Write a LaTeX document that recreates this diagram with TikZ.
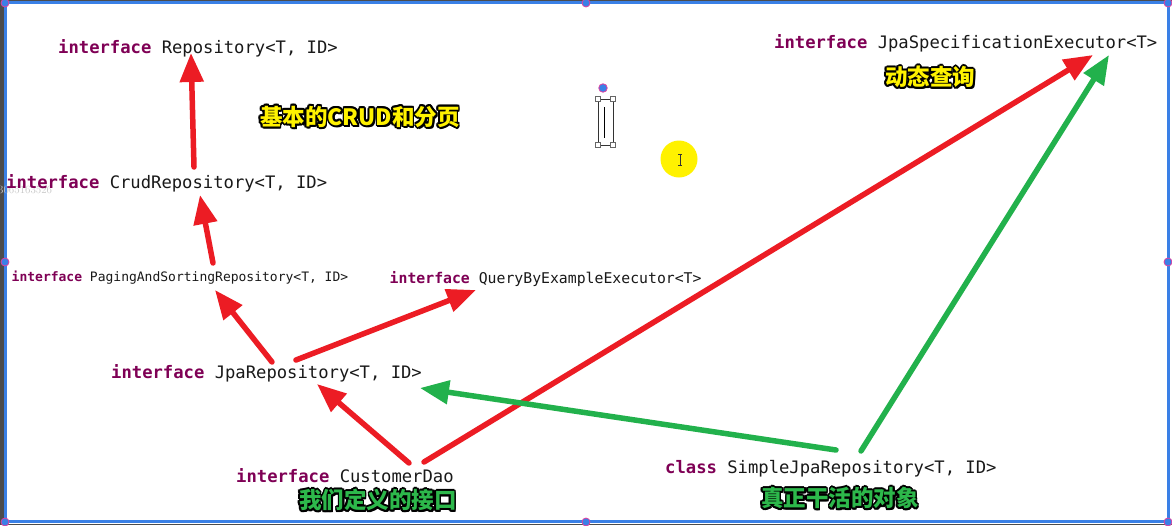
\documentclass[tikz,border=0pt]{standalone}
\usepackage{fontspec}
\setmonofont{DejaVu Sans Mono}
\newfontfamily\cjk{Noto Sans CJK SC}
\usetikzlibrary{arrows.meta}
\definecolor{kwpurple}{HTML}{7F0055}
\definecolor{arrred}{HTML}{EC1C24}
\definecolor{arrgreen}{HTML}{22B14C}
\definecolor{labyellow}{HTML}{FFF200}
\definecolor{labgreen}{HTML}{2DB84B}
\definecolor{frameblue}{HTML}{3A80E6}
\definecolor{handlering}{HTML}{E040A0}
\newcommand\kw[1]{{\bfseries\color{kwpurple}#1}}
\newcommand\olab[2]{%
  \leavevmode
  \foreach \ang in {0,30,...,330}{%
    \pgfmathsetlengthmacro\dx{1.7pt*cos(\ang)}%
    \pgfmathsetlengthmacro\dy{1.7pt*sin(\ang)}%
    \rlap{\kern\dx\raisebox{\dy}{\color{black}#2}}}%
  \rlap{\kern1.6pt\raisebox{-1.8pt}{\color{black}#2}}%
  {\color{#1}#2}}
\tikzset{
  code/.style={anchor=base west, inner sep=0pt, font=\ttfamily\fontsize{17.2}{20}\selectfont, text=black!90},
  codesmall/.style={code, font=\ttfamily\fontsize{13}{15}\selectfont},
  codemid/.style={code, font=\ttfamily\fontsize{14.8}{17}\selectfont},
  cnlab/.style={inner sep=0pt, font=\cjk\bfseries\fontsize{22.5}{26}\selectfont},
  redarr/.style={draw=arrred, line width=5.5pt, line cap=round, -{Triangle[length=29pt,width=23pt]}},
  greenarr/.style={draw=arrgreen, line width=5.5pt, line cap=round, -{Triangle[length=29pt,width=23pt]}},
  handle/.style={circle, fill=frameblue, draw=handlering, line width=0.8pt, minimum size=8pt, inner sep=0pt},
  sqh/.style={rectangle, fill=white, draw=black!60, line width=0.6pt, minimum size=5pt, inner sep=0pt}
}
\begin{document}
\begin{tikzpicture}[x=1pt,y=-1pt]
\useasboundingbox (0,0) rectangle (1172,525);
\fill[white] (0,0) rectangle (1172,525);
% screen frame
\fill[black!70] (0,0) rectangle (3.5,525);
\fill[black!70] (0,0) rectangle (1172,1.2);
\fill[black!70] (0,523.5) rectangle (1172,525);
\draw[frameblue, line width=2.8pt] (5.2,2.8) -- (1168.2,2.8) -- (1168.2,521.8) -- (5.2,521.8) -- cycle;
\foreach \p/\n in {{(5,3)}/h1,{(586,3)}/h2,{(1168,3)}/h3,{(5,262)}/h4,{(1168,262)}/h5,{(5,522)}/h6,{(586,522)}/h7,{(1168,522)}/h8}
  \node[handle] (\n) at \p {};
% faint watermark
\node[anchor=base west, inner sep=0pt, text=black!22, font=\fontsize{11}{12}\selectfont] (wm) at (-2,193) {3065163526};
% selection box and cursor
\draw[black!80, line width=0.7pt] (598,99) rectangle (613,145);
\draw[black, line width=1pt] (604.5,107) -- (604.5,138);
\foreach \p/\n in {{(598,99)}/s1,{(613,99)}/s2,{(598,145)}/s3,{(613,145)}/s4}
  \node[sqh] (\n) at \p {};
\node[handle, minimum size=8.5pt] (rot) at (603,88) {};
\node[circle, fill=yellow, minimum size=37pt, inner sep=0pt] (cursorspot) at (679,159) {};
\draw[black!80, line width=0.7pt] (680,154) -- (680,165) (678,154) -- (682,154) (678,165) -- (682,165);
% code nodes
\node[code] (repo) at (58,53) {\kw{interface} Repository<T, ID>};
\node[code] (crud) at (6,188) {\kw{interface} CrudRepository<T, ID>};
\node[codesmall] (paging) at (11.5,281) {\kw{interface} PagingAndSortingRepository<T, ID>};
\node[codemid] (query) at (389.5,283) {\kw{interface} QueryByExampleExecutor<T>};
\node[code] (jpa) at (111,378) {\kw{interface} JpaRepository<T, ID>};
\node[code] (dao) at (236,482) {\kw{interface} CustomerDao};
\node[code] (simple) at (665,473) {\kw{class} SimpleJpaRepository<T, ID>};
\node[code] (spec) at (774,48) {\kw{interface} JpaSpecificationExecutor<T>};
% labels
\node[cnlab] (lab1) at (360,117) {\olab{labyellow}{基本的CRUD和分页}};
\node[cnlab] (lab2) at (930,77) {\olab{labyellow}{动态查询}};
\node[cnlab] (lab3) at (378,500) {\olab{labgreen}{我们定义的接口}};
\node[cnlab] (lab4) at (840,498) {\olab{labgreen}{真正干活的对象}};
% arrow end points
\coordinate (crudTop) at (194,167);
\coordinate (repoBot) at (191,53);
\coordinate (pagTop) at (213,263);
\coordinate (crudBot) at (200,195);
\coordinate (jpaTopL) at (272,362);
\coordinate (pagBot) at (215,290);
\coordinate (jpaTopR) at (296,360);
\coordinate (queryBot) at (476,290);
\coordinate (daoTopL) at (409,463);
\coordinate (jpaBot) at (317,384);
\coordinate (daoTopR) at (424,462);
\coordinate (specBotL) at (1093,55);
\coordinate (simpleTopL) at (836,450);
\coordinate (jpaRight) at (420,388);
\coordinate (simpleTopR) at (861,451);
\coordinate (specBotR) at (1109,55);
% connectors
\draw[redarr] (crudTop) -- (repoBot);
\draw[redarr] (pagTop) -- (crudBot);
\draw[redarr] (jpaTopL) -- (pagBot);
\draw[redarr] (jpaTopR) -- (queryBot);
\draw[redarr] (daoTopL) -- (jpaBot);
\draw[redarr] (daoTopR) -- (specBotL);
\draw[greenarr] (simpleTopL) -- (jpaRight);
\draw[greenarr] (simpleTopR) -- (specBotR);
\end{tikzpicture}
\end{document}
